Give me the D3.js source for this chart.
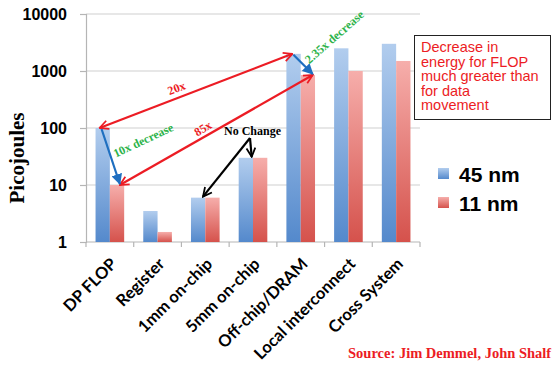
<!DOCTYPE html>
<html>
<head>
<meta charset="utf-8">
<script src="https://cdn.jsdelivr.net/npm/d3@7"></script>
<style>
  html, body { margin: 0; padding: 0; background: #fff; }
  svg { display: block; }
</style>
</head>
<body>
<svg id="chart" width="554" height="368"></svg>
<script>
// Energy per operation / data movement, picojoules (log scale)
const categories = ["DP FLOP", "Register", "1mm on-chip", "5mm on-chip", "Off-chip/DRAM", "Local interconnect", "Cross System"];
const series = ["45 nm", "11 nm"];
const values45 = [100, 3.5, 6, 30, 2000, 2500, 3000];
const values11 = [10, 1.5, 6, 30, 850, 1000, 1500];
const yTicks = [1, 10, 100, 1000, 10000];
const boxLines = ["Decrease in", "energy for FLOP", "much greater than", "for data", "movement"];

const svg = d3.select("#chart");
const margin = { left: 86, right: 420, top: 14, bottom: 242 };

const x = d3.scaleBand().domain(categories).range([margin.left, margin.right])
  .paddingInner(0.4).paddingOuter(0.2);
const xs = d3.scaleBand().domain(series).range([0, x.bandwidth()]);
const y = d3.scaleLog().domain([1, 10000]).range([margin.bottom, margin.top]);

const defs = svg.append("defs");
function grad(id, top, bottom) {
  const g = defs.append("linearGradient").attr("id", id)
    .attr("x1", 0).attr("y1", 0).attr("x2", 0).attr("y2", 1);
  g.append("stop").attr("offset", "0%").attr("stop-color", top);
  g.append("stop").attr("offset", "100%").attr("stop-color", bottom);
}
grad("gBlue", "#b2cdee", "#5489cc");
grad("gRed", "#f6aeab", "#d5524c");

function marker(id, color, filled) {
  const m = defs.append("marker").attr("id", id)
    .attr("viewBox", "0 0 10 10").attr("refX", 9).attr("refY", 5)
    .attr("markerWidth", 5).attr("markerHeight", 5)
    .attr("markerUnits", "strokeWidth")
    .attr("orient", "auto-start-reverse");
  if (filled) {
    m.append("path").attr("d", "M0,0 L10,5 L0,10 z").attr("fill", color);
  } else {
    m.append("path").attr("d", "M1,1 L9,5 L1,9").attr("fill", "none")
      .attr("stroke", color).attr("stroke-width", 1.6);
  }
}
marker("mRed", "#ec1c24", false);
marker("mBlue", "#1f6fc0", true);
marker("mBlack", "#000", false);

// gridlines
svg.append("g").selectAll("line").data(yTicks.slice(1)).join("line")
  .attr("x1", margin.left).attr("x2", margin.right)
  .attr("y1", d => y(d)).attr("y2", d => y(d))
  .attr("stroke", "#cfcfcf").attr("stroke-width", 1.2);

// y axis
const yAxis = d3.axisLeft(y).tickValues(yTicks).tickFormat(d3.format("d")).tickSize(6).tickPadding(13);
const gy = svg.append("g").attr("transform", `translate(${margin.left},0)`).call(yAxis);
gy.select(".domain").attr("stroke", "#b5b5b5").attr("stroke-width", 1.2);
gy.selectAll(".tick line").attr("stroke", "#b5b5b5").attr("stroke-width", 1.2);
gy.selectAll(".tick text").attr("font-family", "Liberation Sans, Arial, sans-serif")
  .attr("font-weight", "bold").attr("font-size", 16).attr("fill", "#000").attr("dy", "0.36em");

// x axis with ticks at category boundaries
const gx = svg.append("g");
gx.append("line").attr("x1", margin.left).attr("x2", margin.right)
  .attr("y1", margin.bottom).attr("y2", margin.bottom)
  .attr("stroke", "#b5b5b5").attr("stroke-width", 1.2);
const bounds = categories.map(c => x(c) - x.step() * x.paddingInner() / 2).concat([margin.right]);
gx.selectAll("line.tk").data(bounds).join("line").attr("class", "tk")
  .attr("x1", d => d).attr("x2", d => d)
  .attr("y1", margin.bottom).attr("y2", margin.bottom + 5)
  .attr("stroke", "#b5b5b5").attr("stroke-width", 1.2);
gx.selectAll("text").data(categories).join("text")
  .attr("transform", d => `translate(${x(d) + x.bandwidth() / 2 + 8},${margin.bottom + 23}) rotate(-45)`)
  .attr("text-anchor", "end")
  .attr("font-family", "Lato, Open Sans, sans-serif").attr("font-weight", "bold")
  .attr("font-size", 16.5).attr("fill", "#000")
  .text(d => d);

// bars
const rows = categories.map((c, i) => ({ c, v: [values45[i], values11[i]] }));
const groups = svg.append("g").selectAll("g").data(rows).join("g")
  .attr("transform", d => `translate(${x(d.c)},0)`);
groups.selectAll("rect").data(d => d.v.map((v, j) => ({ s: series[j], v }))).join("rect")
  .attr("x", d => xs(d.s)).attr("width", xs.bandwidth())
  .attr("y", d => y(d.v)).attr("height", d => y(1) - y(d.v))
  .attr("fill", d => d.s === "45 nm" ? "url(#gBlue)" : "url(#gRed)");

// y axis title
svg.append("text").attr("transform", "translate(24,158) rotate(-90)")
  .attr("text-anchor", "middle")
  .attr("font-family", "Liberation Serif, Times New Roman, serif").attr("font-weight", "bold")
  .attr("font-size", 21).attr("fill", "#000").text("Picojoules");

// annotation helpers
const bx = (c, s, off) => x(c) + xs(s) + off;
const ann = svg.append("g");
function arrow(x1, y1, x2, y2, color, mk, both) {
  const l = ann.append("line").attr("x1", x1).attr("y1", y1).attr("x2", x2).attr("y2", y2)
    .attr("stroke", color).attr("stroke-width", 2.2)
    .attr("marker-end", `url(#${mk})`);
  if (both) l.attr("marker-start", `url(#${mk})`);
}
function label(txt, cx, cy, ang, color, size) {
  ann.append("text").attr("transform", `translate(${cx},${cy}) rotate(${ang})`)
    .attr("text-anchor", "middle")
    .attr("font-family", "Liberation Serif, Times New Roman, serif").attr("font-weight", "bold")
    .attr("font-size", size).attr("fill", color).text(txt);
}

// FLOP vs DRAM comparisons
arrow(bx("Off-chip/DRAM", "45 nm", 6), y(2000), bx("DP FLOP", "45 nm", 4), y(100), "#ec1c24", "mRed", true);
arrow(bx("Off-chip/DRAM", "11 nm", 12), y(850), bx("DP FLOP", "11 nm", 10), y(10), "#ec1c24", "mRed", true);
label("20x", 178, 92, -21, "#ec1c24", 12);
label("85x", 205, 132, -31, "#ec1c24", 12);

// technology scaling decreases
arrow(bx("DP FLOP", "45 nm", 6), y(100) + 1, bx("DP FLOP", "11 nm", 10), y(10) - 1, "#1f6fc0", "mBlue", false);
arrow(bx("Off-chip/DRAM", "45 nm", 7), y(2000) + 1, bx("Off-chip/DRAM", "11 nm", 12), y(850) - 1, "#1f6fc0", "mBlue", false);
label("10x decrease", 145, 144, -25, "#2db34a", 12);
label("2.35x decrease", 337, 40, -41, "#2db34a", 12);

// on-chip movement unchanged
ann.append("text").attr("x", 224).attr("y", 135)
  .attr("font-family", "Liberation Serif, Times New Roman, serif").attr("font-weight", "bold")
  .attr("font-size", 12).attr("fill", "#000").text("No Change");
arrow(250, 138, bx("1mm on-chip", "45 nm", 12), y(6) - 1, "#000", "mBlack", false);
arrow(250, 138, bx("5mm on-chip", "45 nm", 13), y(30) - 1, "#000", "mBlack", false);

// legend
const leg = svg.append("g").attr("transform", "translate(438,168)");
series.forEach((s, i) => {
  leg.append("rect").attr("x", 0).attr("y", i * 29).attr("width", 11).attr("height", 11)
    .attr("fill", i === 0 ? "url(#gBlue)" : "url(#gRed)");
  leg.append("text").attr("x", 21).attr("y", i * 29 + 14)
    .attr("font-family", "Liberation Sans, Arial, sans-serif").attr("font-weight", "bold")
    .attr("font-size", 21).attr("fill", "#000").text(s);
});

// callout box
const box = svg.append("g");
box.append("rect").attr("x", 414.5).attr("y", 35.5).attr("width", 136).attr("height", 84)
  .attr("fill", "#fff").attr("stroke", "#222").attr("stroke-width", 1);
box.selectAll("text").data(boxLines).join("text")
  .attr("x", 421).attr("y", (d, i) => 52 + i * 14.6)
  .attr("font-family", "Liberation Sans, Arial, sans-serif")
  .attr("font-size", 14.5).attr("fill", "#ec1c24").text(d => d);

// source credit, sized to sit inside the right edge
svg.append("text").attr("x", 348).attr("y", 358)
  .attr("font-family", "Liberation Serif, Times New Roman, serif").attr("font-weight", "bold")
  .attr("font-size", 14.5).attr("fill", "#ec1c24").text("Source: Jim Demmel, John Shalf");
</script>
</body>
</html>
